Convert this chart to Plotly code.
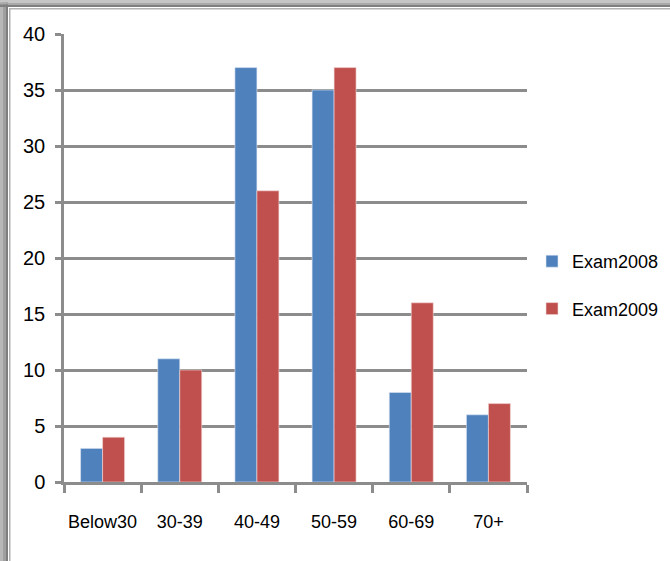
import plotly.graph_objects as go

# Score bands and the number of candidates in each, per exam year
bands = ["Below30", "30-39", "40-49", "50-59", "60-69", "70+"]
exam_2008 = [3, 11, 37, 35, 8, 6]
exam_2009 = [4, 10, 26, 37, 16, 7]
y_ticks = [0, 5, 10, 15, 20, 25, 30, 35, 40]

FONT = "Liberation Sans, Arial, sans-serif"
GRID = "#8c8c8c"

W, H = 670, 561
L, R, T, B = 64, 143, 34, 79
PW, PH = W - L - R, H - T - B


def fx(px):
    return (px - L) / PW


def fy(py):
    return (H - B - py) / PH


fig = go.Figure()
fig.add_trace(go.Bar(x=bands, y=exam_2008, name="Exam2008",
                     marker=dict(color="#4F81BD", line=dict(color="#dfe8f3", width=0.6)),
                     legendgroup="a"))
fig.add_trace(go.Bar(x=bands, y=exam_2009, name="Exam2009",
                     marker=dict(color="#C0504D", line=dict(color="#f3dcdb", width=0.6)),
                     legendgroup="b"))

# window-style frame along the left and top edges
frame = [
    # left band
    (0, 0, 3, H, "#b8b8b8"), (3, 0, 6, H, "#a0a0a0"), (6, 0, 8, H, "#7f7f7f"),
    (9, 8, 10.5, H, "#b3b3b3"),
    # top band
    (0, 0, W, 2.5, "#c6c6c6"), (0, 2.5, W, 4.5, "#a9a9a9"), (0, 4.5, W, 7, "#808080"),
    (9, 8, W, 9.5, "#b3b3b3"),
]
shapes = []
for x0, y0, x1, y1, c in frame:
    shapes.append(dict(type="rect", xref="paper", yref="paper",
                       x0=fx(x0), x1=fx(x1), y0=fy(y1), y1=fy(y0),
                       fillcolor=c, line=dict(width=0), layer="above"))

fig.update_layout(
    width=W, height=H,
    margin=dict(l=L, r=R, t=T, b=B, autoexpand=False),
    paper_bgcolor="white", plot_bgcolor="white",
    barmode="group", bargap=0.43, bargroupgap=0,
    font=dict(family=FONT, size=18, color="#000000"),
    showlegend=True,
    legend=dict(x=fx(532), y=fy(285), xanchor="left", yanchor="middle",
                tracegroupgap=21, font=dict(size=18), itemwidth=30,
                bgcolor="rgba(0,0,0,0)"),
    shapes=shapes,
    xaxis=dict(showline=True, linecolor=GRID, linewidth=2.5,
               ticks="outside", tickson="boundaries", ticklen=8, tickwidth=2.5,
               tickcolor=GRID, showgrid=False, ticklabelstandoff=22,
               tickangle=0, tickfont=dict(size=18)),
    yaxis=dict(range=[0, 40], tickvals=y_ticks, showline=True, linecolor=GRID,
               linewidth=2.5, ticks="outside", ticklen=6, tickwidth=2.5,
               tickcolor=GRID, showgrid=True, gridcolor=GRID, gridwidth=2.5,
               zeroline=False, ticklabelstandoff=6, tickfont=dict(size=20)),
)

fig.write_html("out.html")
